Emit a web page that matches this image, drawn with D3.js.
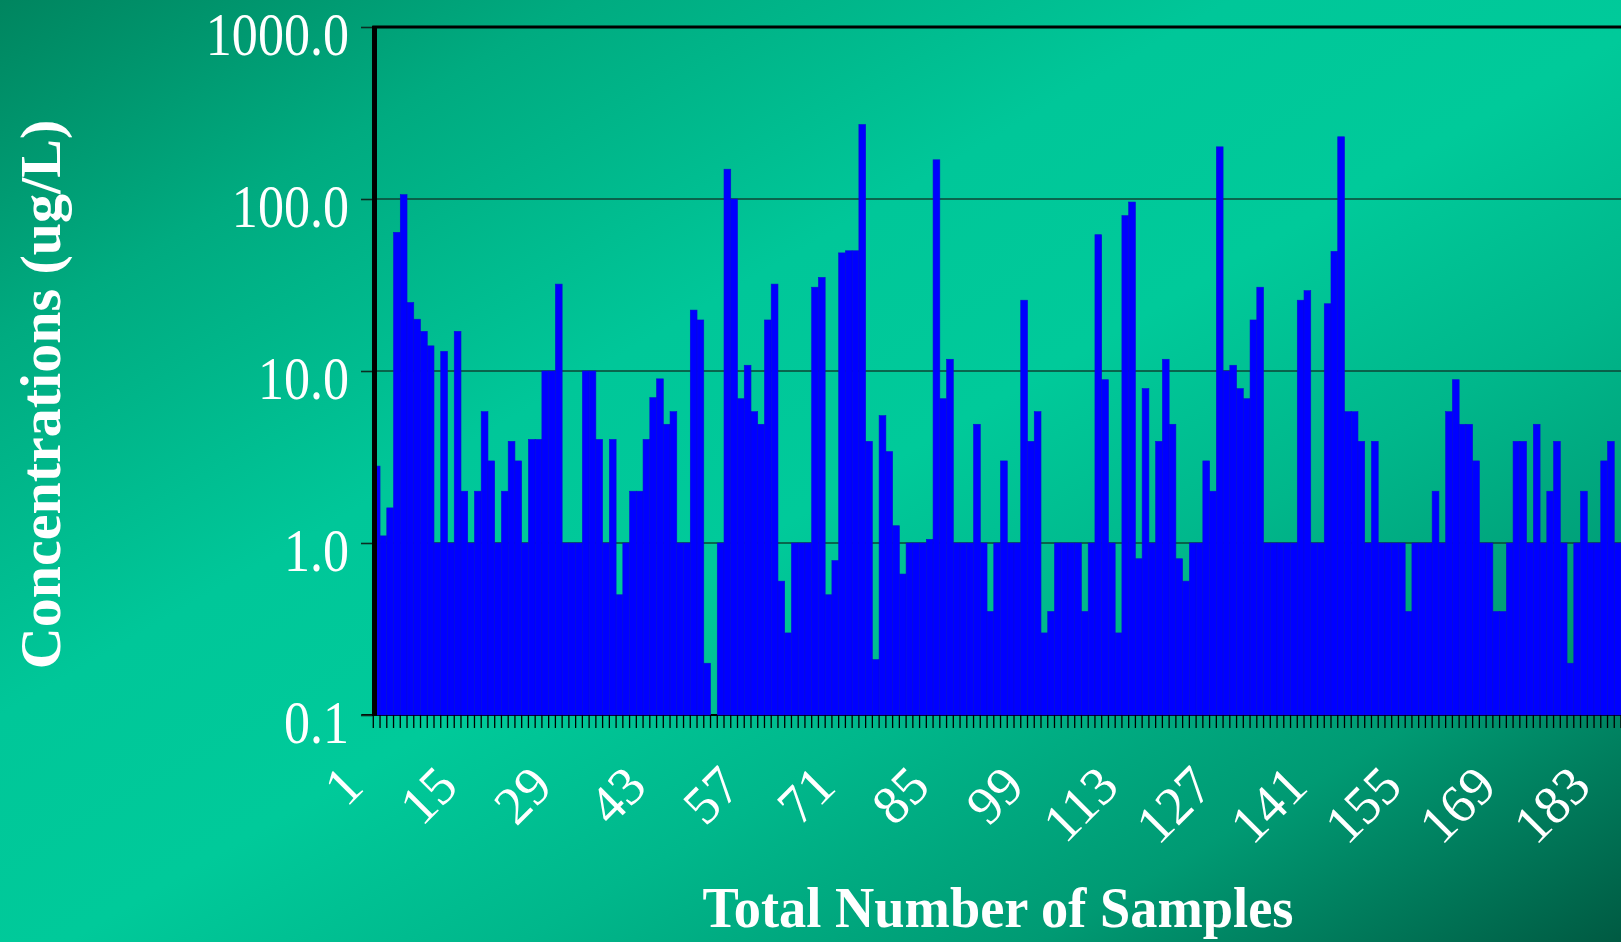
<!DOCTYPE html>
<html>
<head>
<meta charset="utf-8">
<script src="https://cdn.jsdelivr.net/npm/d3@7/dist/d3.min.js"></script>
<style>
  html, body { margin: 0; padding: 0; overflow: hidden; background: #00c498; }
  svg { display: block; }
</style>
</head>
<body>
<svg id="chart" width="1621" height="942"></svg>
<script>
// ---------------- data ----------------
const concentrations = [
  2.8, 1.1, 1.6, 64, 106, 25, 20, 17, 14, 1.0,
  13, 1.0, 17, 2.0, 1.0, 2.0, 5.8, 3.0, 1.0, 2.0,
  3.9, 3.0, 1.0, 4.0, 4.0, 10, 10, 32, 1.0, 1.0,
  1.0, 10, 10, 4.0, 1.0, 4.0, 0.5, 1.0, 2.0, 2.0,
  4.0, 7.0, 9.0, 4.9, 5.8, 1.0, 1.0, 22.6, 19.8, 0.2,
  0.1, 1.0, 149, 100, 6.9, 10.8, 5.8, 4.9, 19.8, 32,
  0.6, 0.3, 1.0, 1.0, 1.0, 30.7, 35, 0.5, 0.79, 48.6,
  50, 50, 271, 3.9, 0.21, 5.5, 3.4, 1.26, 0.66, 1.0,
  1.0, 1.0, 1.05, 169, 6.9, 11.7, 1.0, 1.0, 1.0, 4.9,
  1.0, 0.4, 1.0, 3.0, 1.0, 1.0, 25.8, 3.9, 5.8, 0.3,
  0.4, 1.0, 1.0, 1.0, 1.0, 0.4, 1.0, 62, 8.9, 1.0,
  0.3, 80, 96, 0.81, 7.9, 1.0, 3.9, 11.7, 4.9, 0.81,
  0.6, 1.0, 1.0, 3.0, 2.0, 201, 10, 10.8, 7.9, 6.9,
  19.8, 30.7, 1.0, 1.0, 1.0, 1.0, 1.0, 25.8, 29.3, 1.0,
  1.0, 24.6, 49.6, 230, 5.8, 5.8, 3.9, 1.0, 3.9, 1.0,
  1.0, 1.0, 1.0, 0.4, 1.0, 1.0, 1.0, 2.0, 1.0, 5.8,
  8.9, 4.9, 4.9, 3.0, 1.0, 1.0, 0.4, 0.4, 1.0, 3.9,
  3.9, 1.0, 4.9, 1.0, 2.0, 3.9, 1.0, 0.2, 1.0, 2.0,
  1.0, 1.0, 3.0, 3.9, 1.0
];
const sampleNumbers = concentrations.map((d, i) => i + 1);
const xTickLabels = [1, 15, 29, 43, 57, 71, 85, 99, 113, 127, 141, 155, 169, 183];
const yTickValues = [0.1, 1, 10, 100, 1000];
const yTickLabels = ["0.1", "1.0", "10.0", "100.0", "1000.0"];
const yTitle = "Concentrations (ug/L)";
const xTitle = "Total Number of Samples";

// ---------------- layout ----------------
const W = 1621, H = 942;
const plotLeft = 373.3, plotRight = 1621, plotTop = 27, plotBottom = 715;
const serif = "'Liberation Serif', 'Times New Roman', Times, serif";

const svg = d3.select("#chart");

// background gradient
const defs = svg.append("defs");
const grad = defs.append("linearGradient")
  .attr("id", "bg").attr("x1", 0).attr("y1", 0).attr("x2", 1).attr("y2", 1);
[
  [0.00, "#00855f"],
  [0.18, "#00ab80"],
  [0.38, "#00c799"],
  [0.52, "#00ca9a"],
  [0.66, "#00b78b"],
  [0.82, "#009a73"],
  [1.00, "#005a42"]
].forEach(([o, c]) => grad.append("stop").attr("offset", o).attr("stop-color", c));
svg.append("rect").attr("width", W).attr("height", H).attr("fill", "url(#bg)");

// scales
const x = d3.scaleBand().domain(sampleNumbers).range([plotLeft, plotRight]).padding(0);
const y = d3.scaleLog().domain([0.1, 1000]).range([plotBottom, plotTop]);

// gridlines
svg.append("g").selectAll("line")
  .data([1, 10, 100])
  .join("line")
  .attr("x1", plotLeft).attr("x2", plotRight)
  .attr("y1", d => y(d)).attr("y2", d => y(d))
  .attr("stroke", "#0d4434").attr("stroke-width", 1.6);

// x axis baseline (under bars)
svg.append("line")
  .attr("x1", plotLeft - 12).attr("x2", plotRight)
  .attr("y1", plotBottom).attr("y2", plotBottom)
  .attr("stroke", "#000").attr("stroke-width", 2);

// bars
svg.append("g").selectAll("rect")
  .data(concentrations)
  .join("rect")
  .attr("x", (d, i) => x(sampleNumbers[i]))
  .attr("width", x.bandwidth())
  .attr("y", d => y(Math.max(d, 0.1)))
  .attr("height", d => plotBottom - y(Math.max(d, 0.1)))
  .attr("fill", "#0000ff")
  .attr("stroke", "#0a0ad8")
  .attr("stroke-width", 0.6);

// category tick marks below x axis
const boundaries = sampleNumbers.map(n => x(n)).concat([plotRight]);
svg.append("g").selectAll("line")
  .data(boundaries)
  .join("line")
  .attr("x1", d => d).attr("x2", d => d)
  .attr("y1", plotBottom).attr("y2", plotBottom + 13)
  .attr("stroke", "#000").attr("stroke-width", 1.3);

// x axis labels
const xAxis = d3.axisBottom(x).tickValues(xTickLabels).tickSize(0).tickFormat(d => String(d));
const gx = svg.append("g").attr("transform", `translate(0,${plotBottom})`).call(xAxis);
gx.select(".domain").remove();
gx.selectAll("text")
  .attr("y", 0).attr("dy", 0)
  .attr("transform", "translate(-11,74) rotate(-45)")
  .attr("text-anchor", "end")
  .attr("fill", "#ffffff")
  .attr("font-family", serif)
  .attr("font-size", 54);

// y axis
const yAxis = d3.axisLeft(y).tickValues(yTickValues).tickSize(12)
  .tickFormat(d => yTickLabels[yTickValues.indexOf(d)]);
const gy = svg.append("g").attr("transform", "translate(373,0)").call(yAxis);
gy.select(".domain").remove();
gy.selectAll("line").attr("stroke", "#0b2d22").attr("stroke-width", 1.6);
const sx = 0.84;
gy.selectAll("text")
  .attr("x", -24 / sx).attr("y", 27).attr("dy", 0)
  .attr("transform", `scale(${sx},1)`)
  .attr("text-anchor", "end")
  .attr("fill", "#ffffff")
  .attr("font-family", serif)
  .attr("font-size", 62);

// plot frame: thick left axis and top border
svg.append("line")
  .attr("x1", plotLeft + 1.2).attr("x2", plotLeft + 1.2)
  .attr("y1", plotTop - 1).attr("y2", plotBottom + 1)
  .attr("stroke", "#000").attr("stroke-width", 5);
svg.append("line")
  .attr("x1", plotLeft - 1).attr("x2", plotRight)
  .attr("y1", plotTop).attr("y2", plotTop)
  .attr("stroke", "#000").attr("stroke-width", 3);

// axis titles
svg.append("text")
  .attr("transform", `translate(60,${(117 + 672) / 2}) rotate(-90)`)
  .attr("text-anchor", "middle")
  .attr("fill", "#ffffff")
  .attr("font-family", serif)
  .attr("font-weight", "bold")
  .attr("font-size", 58)
  .text(yTitle);

svg.append("text")
  .attr("x", 998).attr("y", 927)
  .attr("text-anchor", "middle")
  .attr("fill", "#ffffff")
  .attr("font-family", serif)
  .attr("font-weight", "bold")
  .attr("font-size", 57)
  .attr("textLength", 591)
  .attr("lengthAdjust", "spacingAndGlyphs")
  .text(xTitle);
</script>
</body>
</html>
